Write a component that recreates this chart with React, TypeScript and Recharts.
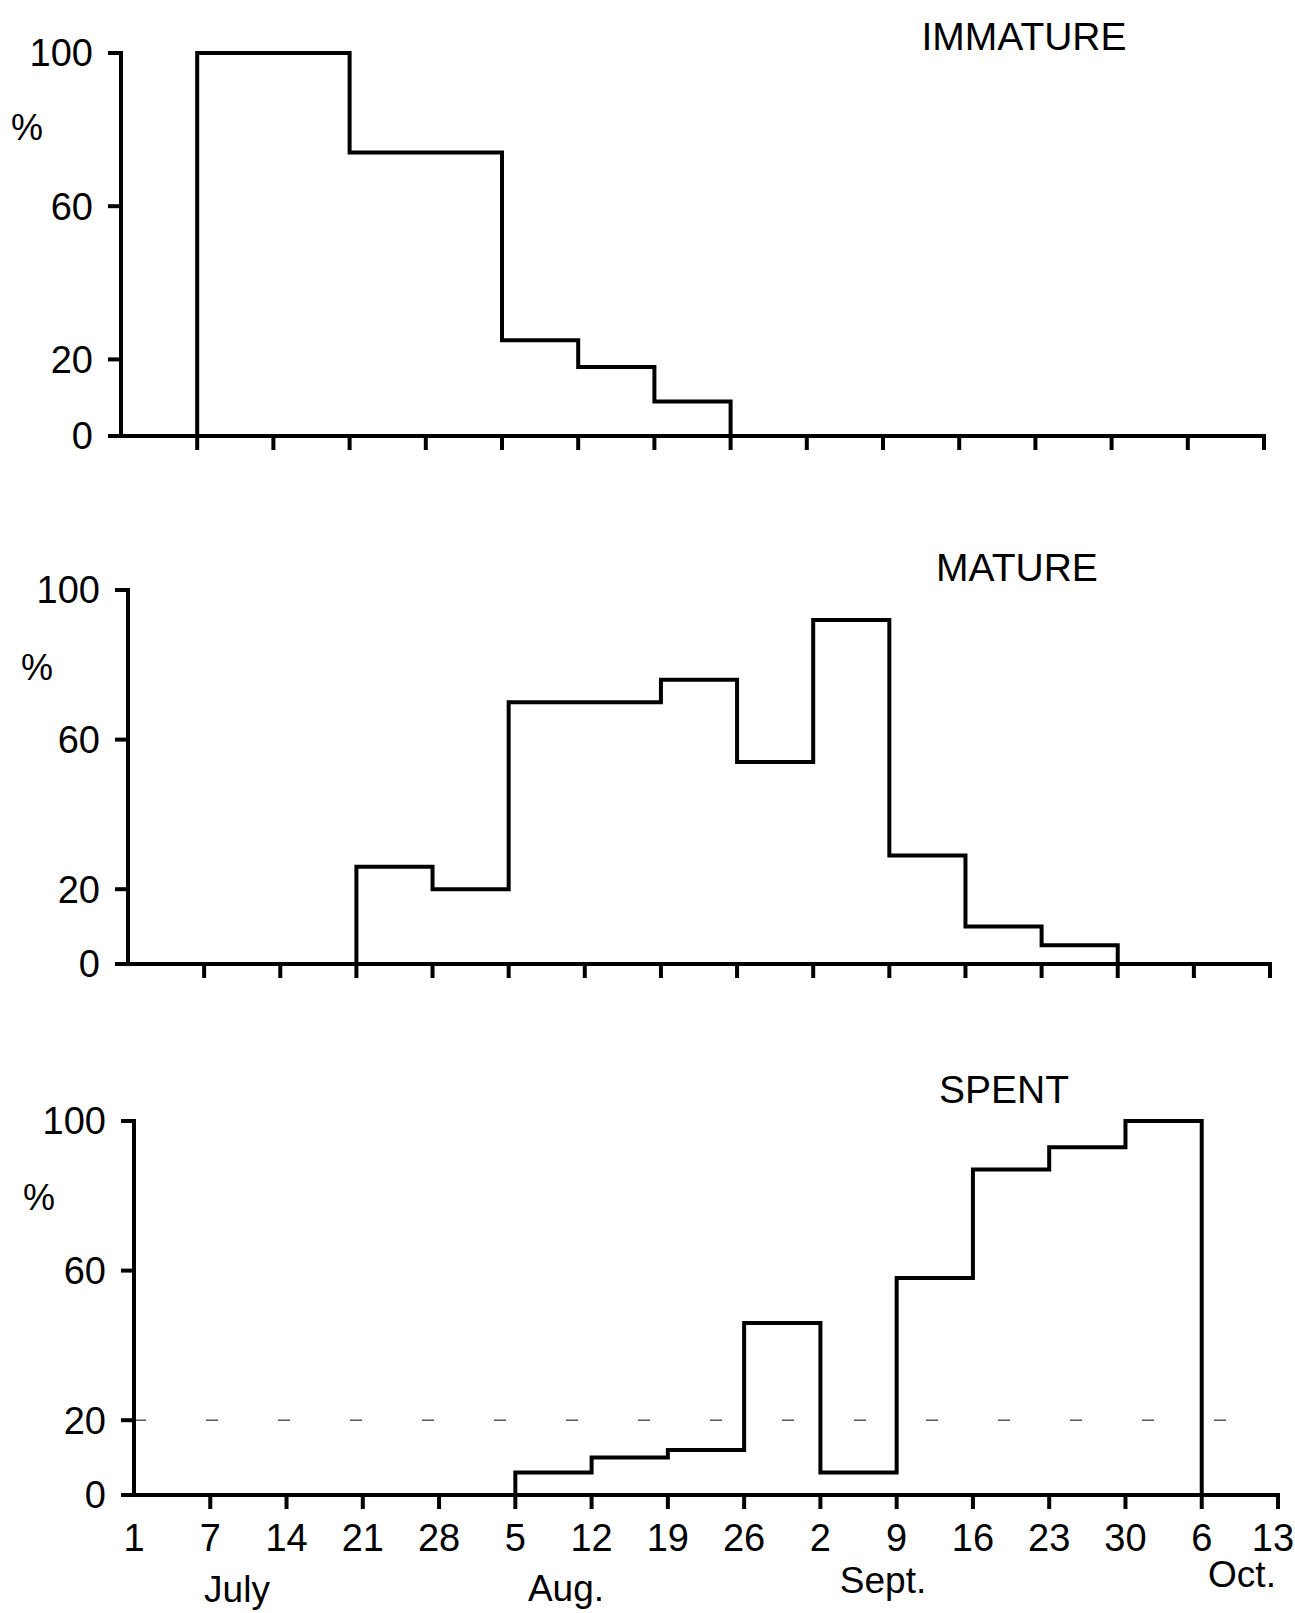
import React from "react";
import { LineChart, Line, XAxis, YAxis, ReferenceLine } from "recharts";

// week starts, 1 July .. 13 Oct
const dateTicks = ["1", "7", "14", "21", "28", "5", "12", "19", "26", "2", "9", "16", "23", "30", "6", "13"];
const yTicks = [0, 20, 60, 100];

const immature = [0, 100, 100, 74, 74, 25, 18, 9, 0, 0, 0, 0, 0, 0, 0, 0];
const mature = [0, 0, 0, 26, 20, 70, 70, 76, 54, 92, 29, 10, 5, 0, 0, 0];
const spent = [0, 0, 0, 0, 0, 6, 10, 12, 46, 6, 58, 87, 93, 100, 0, 0];

const months = [
  { name: "July", x: 237, y: 1589 },
  { name: "Aug.", x: 566, y: 1588 },
  { name: "Sept.", x: 883, y: 1580 },
  { name: "Oct.", x: 1242, y: 1574 },
];

const FONT = '"Liberation Sans", Arial, sans-serif';
const TICK_LEN = 14;

const toRows = (vals: number[]) => vals.map((v, i) => ({ idx: i, value: v }));

const DateTick = (props: any) => {
  const { x, y, payload, showLabel } = props;
  const axisY = y - TICK_LEN;
  // keep the last label inside the page
  const tx = Math.min(x, 1295 - 22);
  return (
    <g>
      {payload.value !== 0 && (
        <line x1={x} x2={x} y1={axisY} y2={axisY + TICK_LEN} stroke="#000" strokeWidth={4} />
      )}
      {showLabel && (
        <text x={tx} y={axisY + 56} textAnchor="middle" fontSize={38} fontFamily={FONT} fill="#000">
          {dateTicks[payload.value]}
        </text>
      )}
    </g>
  );
};

type PanelProps = {
  values: number[];
  top: number;
  height: number;
  plotLeft: number;
  plotRight: number;
  plotTop: number;
  plotBottom: number;
  showLabels?: boolean;
  dashed20?: boolean;
};

const Panel: React.FC<PanelProps> = ({ values, top, height, plotLeft, plotRight, plotTop, plotBottom, showLabels, dashed20 }) => {
  const xAxisH = 30;
  return (
    <div style={{ position: "absolute", left: 0, top }}>
      <LineChart
        width={1295}
        height={height}
        data={toRows(values)}
        margin={{ top: plotTop - top, left: 0, right: 1295 - plotRight, bottom: top + height - plotBottom - xAxisH }}
      >
        <XAxis
          dataKey="idx"
          type="number"
          domain={[0, 15]}
          ticks={dateTicks.map((_, i) => i)}
          interval={0}
          height={xAxisH}
          tickSize={TICK_LEN}
          tickMargin={0}
          tickLine={false}
          axisLine={{ stroke: "#000", strokeWidth: 4, strokeLinecap: "square" }}
          tick={<DateTick showLabel={showLabels} />}
        />
        <YAxis
          type="number"
          domain={[0, 100]}
          ticks={yTicks}
          interval={0}
          width={plotLeft}
          tickSize={13}
          tickMargin={15}
          axisLine={{ stroke: "#000", strokeWidth: 4, strokeLinecap: "square" }}
          tickLine={{ stroke: "#000", strokeWidth: 4 }}
          tick={{ fill: "#000", fontSize: 38, fontFamily: FONT }}
        />
        {dashed20 && (
          <ReferenceLine y={20} stroke="#555" strokeWidth={1.5} strokeDasharray="12 60" />
        )}
        <Line
          type="stepAfter"
          dataKey="value"
          stroke="#000"
          strokeWidth={4}
          dot={false}
          activeDot={false}
          isAnimationActive={false}
        />
      </LineChart>
    </div>
  );
};

const txt = (s: string, x: number, y: number, size: number) => (
  <div
    key={s + y}
    style={{
      position: "absolute",
      left: x,
      top: y,
      transform: "translate(-50%, -50%)",
      fontFamily: FONT,
      fontSize: size,
      lineHeight: `${size}px`,
      color: "#000",
      whiteSpace: "nowrap",
    }}
  >
    {s}
  </div>
);

export default function App() {
  return (
    <div style={{ position: "absolute", left: 0, top: 0, width: 1295, height: 1613, background: "#fff", overflow: "hidden" }}>
      <Panel values={immature} top={0} height={500} plotLeft={121} plotRight={1264} plotTop={53} plotBottom={436} />
      <Panel values={mature} top={520} height={520} plotLeft={128} plotRight={1270} plotTop={590} plotBottom={964} />
      <Panel
        values={spent}
        top={1040}
        height={573}
        plotLeft={134}
        plotRight={1278}
        plotTop={1121}
        plotBottom={1495}
        showLabels
        dashed20
      />
      {txt("IMMATURE", 1024, 36, 39)}
      {txt("MATURE", 1017, 567, 39)}
      {txt("SPENT", 1004, 1089, 39)}
      {txt("%", 27, 128, 36)}
      {txt("%", 37, 668, 36)}
      {txt("%", 39, 1198, 36)}
      {months.map((m) => txt(m.name, m.x, m.y, 37))}
    </div>
  );
}
